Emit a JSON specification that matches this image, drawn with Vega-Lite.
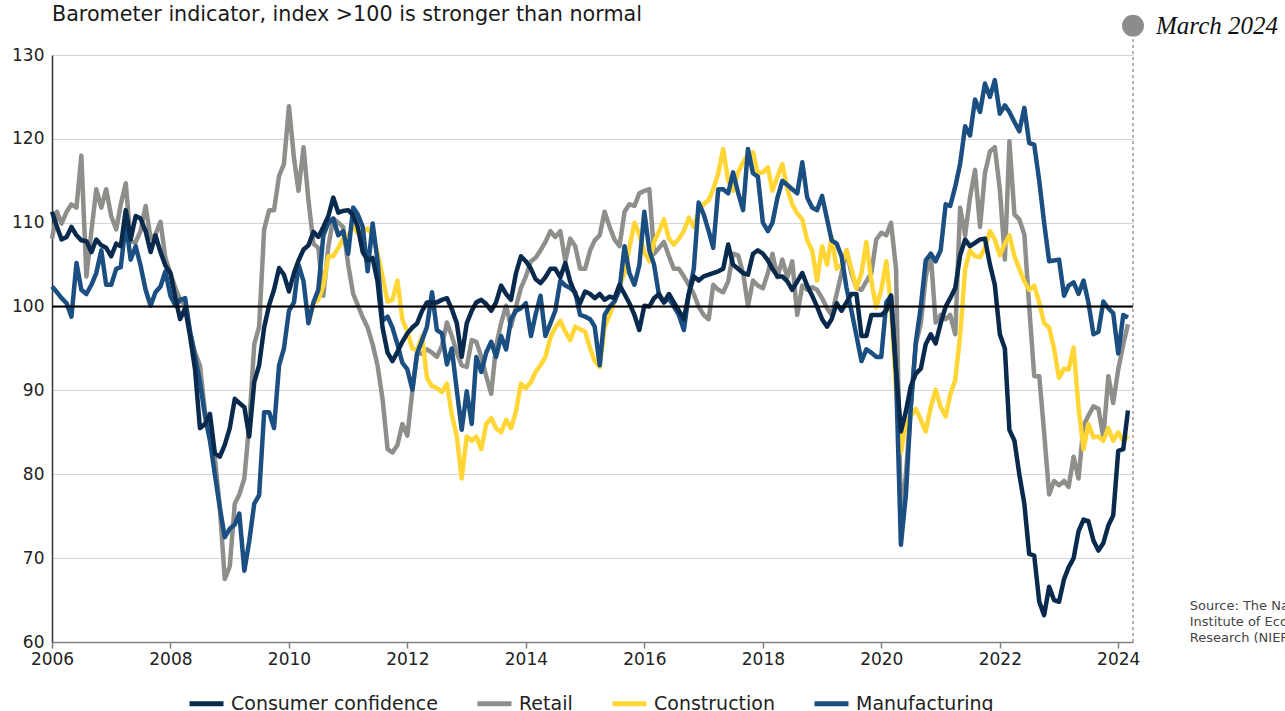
{
"$schema":"https://vega.github.io/schema/vega-lite/v6.json",
"width":1081,"height":587,
"autosize":{"type":"none"},
"padding":{"left":52,"top":55,"right":152,"bottom":69},
"background":"white",
"title":{"text":"Barometer indicator, index >100 is stronger than normal","anchor":"start","frame":"group","offset":-12,"font":"DejaVu Sans","fontSize":20.7,"fontWeight":"normal","color":"#1a1a1a"},
"config":{"view":{"stroke":null},"font":"DejaVu Sans"},
"datasets":{"baro":[
{"d":"2006-01","c":111.3,"r":108.1,"m":102.4},
{"d":"2006-02","c":109.5,"r":111.3,"m":101.7},
{"d":"2006-03","c":108.0,"r":109.9,"m":101.0},
{"d":"2006-04","c":108.3,"r":111.3,"m":100.4},
{"d":"2006-05","c":109.5,"r":112.2,"m":98.8},
{"d":"2006-06","c":108.5,"r":111.8,"m":105.2},
{"d":"2006-07","c":107.9,"r":118.0,"m":102.0},
{"d":"2006-08","c":107.8,"r":103.6,"m":101.5},
{"d":"2006-09","c":106.5,"r":109.0,"m":102.6},
{"d":"2006-10","c":108.0,"r":114.0,"m":104.0},
{"d":"2006-11","c":107.3,"r":111.8,"m":106.7},
{"d":"2006-12","c":107.0,"r":114.0,"m":102.6},
{"d":"2007-01","c":106.0,"r":110.8,"m":102.6},
{"d":"2007-02","c":107.5,"r":109.2,"m":104.5},
{"d":"2007-03","c":107.2,"r":112.2,"m":104.7},
{"d":"2007-04","c":111.5,"r":114.7,"m":110.0},
{"d":"2007-05","c":108.0,"r":107.7,"m":105.6},
{"d":"2007-06","c":110.8,"r":107.7,"m":107.2},
{"d":"2007-07","c":110.5,"r":109.0,"m":104.9},
{"d":"2007-08","c":109.0,"r":112.0,"m":102.0},
{"d":"2007-09","c":106.5,"r":108.1,"m":100.1},
{"d":"2007-10","c":108.5,"r":108.6,"m":101.7},
{"d":"2007-11","c":106.5,"r":110.1,"m":102.4},
{"d":"2007-12","c":104.9,"r":105.8,"m":104.2},
{"d":"2008-01","c":104.0,"r":104.0,"m":101.3},
{"d":"2008-02","c":101.0,"r":102.2,"m":100.1},
{"d":"2008-03","c":98.5,"r":100.8,"m":100.8},
{"d":"2008-04","c":99.8,"r":100.2,"m":101.0},
{"d":"2008-05","c":96.5,"r":97.0,"m":97.0},
{"d":"2008-06","c":92.5,"r":94.5,"m":94.0},
{"d":"2008-07","c":85.5,"r":93.0,"m":91.0},
{"d":"2008-08","c":86.0,"r":87.5,"m":87.0},
{"d":"2008-09","c":87.2,"r":85.5,"m":84.0},
{"d":"2008-10","c":82.5,"r":82.0,"m":80.0},
{"d":"2008-11","c":82.1,"r":76.0,"m":76.0},
{"d":"2008-12","c":83.5,"r":67.5,"m":72.5},
{"d":"2009-01","c":85.5,"r":69.0,"m":73.5},
{"d":"2009-02","c":89.0,"r":76.5,"m":74.0},
{"d":"2009-03","c":88.5,"r":77.6,"m":75.3},
{"d":"2009-04","c":88.0,"r":79.5,"m":68.5},
{"d":"2009-05","c":84.5,"r":86.0,"m":72.0},
{"d":"2009-06","c":91.0,"r":95.5,"m":76.5},
{"d":"2009-07","c":93.0,"r":97.6,"m":77.5},
{"d":"2009-08","c":97.5,"r":109.2,"m":87.4},
{"d":"2009-09","c":100.2,"r":111.5,"m":87.4},
{"d":"2009-10","c":102.0,"r":111.5,"m":85.5},
{"d":"2009-11","c":104.6,"r":115.6,"m":93.0},
{"d":"2009-12","c":103.8,"r":117.0,"m":95.0},
{"d":"2010-01","c":101.8,"r":123.9,"m":99.5},
{"d":"2010-02","c":104.0,"r":117.7,"m":100.5},
{"d":"2010-03","c":105.5,"r":113.8,"m":105.0},
{"d":"2010-04","c":106.8,"r":119.0,"m":103.0},
{"d":"2010-05","c":107.3,"r":112.7,"k":98.0,"m":98.0},
{"d":"2010-06","c":108.9,"r":107.5,"k":100.4,"m":100.5},
{"d":"2010-07","c":108.3,"r":107.0,"k":100.8,"m":102.0},
{"d":"2010-08","c":109.5,"r":101.3,"k":102.5,"m":108.5},
{"d":"2010-09","c":110.8,"r":107.2,"k":106.0,"m":110.0},
{"d":"2010-10","c":113.0,"r":110.5,"k":106.0,"m":110.5},
{"d":"2010-11","c":111.2,"r":110.0,"k":107.0,"m":108.5},
{"d":"2010-12","c":111.4,"r":109.5,"k":108.1,"m":109.0},
{"d":"2011-01","c":111.5,"r":105.0,"k":108.5,"m":106.3},
{"d":"2011-02","c":110.9,"r":101.5,"k":109.5,"m":111.8},
{"d":"2011-03","c":109.5,"r":100.2,"k":108.8,"m":111.0},
{"d":"2011-04","c":106.5,"r":98.7,"k":108.8,"m":109.5},
{"d":"2011-05","c":105.5,"r":97.5,"k":109.3,"m":104.2},
{"d":"2011-06","c":105.8,"r":95.5,"k":108.6,"m":109.9},
{"d":"2011-07","c":103.0,"r":93.0,"k":106.3,"m":105.5},
{"d":"2011-08","c":97.5,"r":89.0,"k":103.6,"m":98.3},
{"d":"2011-09","c":94.5,"r":83.0,"k":100.6,"m":98.8},
{"d":"2011-10","c":93.5,"r":82.6,"k":100.8,"m":97.5},
{"d":"2011-11","c":94.6,"r":83.5,"k":103.1,"m":95.5},
{"d":"2011-12","c":95.8,"r":86.0,"k":98.5,"m":93.3},
{"d":"2012-01","c":96.8,"r":84.6,"k":97.0,"m":92.5},
{"d":"2012-02","c":97.5,"r":90.0,"k":95.0,"m":90.1},
{"d":"2012-03","c":98.0,"r":94.4,"k":94.8,"m":94.4},
{"d":"2012-04","c":99.5,"r":94.4,"k":96.5,"m":96.0},
{"d":"2012-05","c":100.5,"r":94.9,"k":91.5,"m":97.6},
{"d":"2012-06","c":100.5,"r":94.5,"k":90.5,"m":101.7},
{"d":"2012-07","c":100.5,"r":94.0,"k":90.3,"m":97.2},
{"d":"2012-08","c":100.8,"r":95.3,"k":89.8,"m":96.8},
{"d":"2012-09","c":101.0,"r":98.1,"k":90.8,"m":93.1},
{"d":"2012-10","c":99.7,"r":96.5,"k":87.1,"m":95.0},
{"d":"2012-11","c":98.0,"r":94.5,"k":84.5,"m":90.0},
{"d":"2012-12","c":94.0,"r":93.0,"k":79.5,"m":85.3},
{"d":"2013-01","c":98.0,"r":92.8,"k":84.5,"m":89.9},
{"d":"2013-02","c":99.5,"r":96.0,"k":84.0,"m":86.0},
{"d":"2013-03","c":100.5,"r":95.8,"k":84.5,"m":94.0},
{"d":"2013-04","c":100.8,"r":94.0,"k":83.0,"m":92.2},
{"d":"2013-05","c":100.3,"r":91.7,"k":86.0,"m":94.5},
{"d":"2013-06","c":99.5,"r":89.6,"k":86.7,"m":95.8},
{"d":"2013-07","c":100.5,"r":95.3,"k":85.5,"m":94.0},
{"d":"2013-08","c":102.5,"r":98.0,"k":85.0,"m":96.5},
{"d":"2013-09","c":101.5,"r":100.1,"k":86.5,"m":94.9},
{"d":"2013-10","c":100.8,"r":97.6,"k":85.5,"m":98.5},
{"d":"2013-11","c":104.0,"r":100.0,"k":87.5,"m":99.5},
{"d":"2013-12","c":106.0,"r":102.2,"k":90.8,"m":99.8},
{"d":"2014-01","c":105.4,"r":103.6,"k":90.3,"m":100.4},
{"d":"2014-02","c":104.5,"r":105.4,"k":91.0,"m":96.5},
{"d":"2014-03","c":103.3,"r":105.8,"k":92.2,"m":99.0},
{"d":"2014-04","c":102.8,"r":106.7,"k":93.0,"m":101.3},
{"d":"2014-05","c":103.5,"r":107.7,"k":94.0,"m":96.5},
{"d":"2014-06","c":104.5,"r":109.0,"k":96.3,"m":98.0},
{"d":"2014-07","c":104.5,"r":108.3,"k":97.5,"m":99.5},
{"d":"2014-08","c":103.5,"r":109.0,"k":98.3,"m":103.1},
{"d":"2014-09","c":105.2,"r":105.4,"k":97.0,"m":102.5},
{"d":"2014-10","c":103.0,"r":108.1,"k":96.0,"m":102.2},
{"d":"2014-11","c":101.5,"r":107.2,"k":97.6,"m":101.7},
{"d":"2014-12","c":100.4,"r":104.5,"k":97.3,"m":99.0},
{"d":"2015-01","c":101.8,"r":104.5,"k":97.0,"m":98.8},
{"d":"2015-02","c":101.5,"r":106.7,"k":95.0,"m":98.5},
{"d":"2015-03","c":101.0,"r":107.9,"k":93.5,"m":97.6},
{"d":"2015-04","c":101.5,"r":108.5,"k":92.8,"m":93.0},
{"d":"2015-05","c":100.8,"r":111.3,"k":97.5,"m":99.0},
{"d":"2015-06","c":101.2,"r":109.5,"k":99.0,"m":100.0},
{"d":"2015-07","c":101.0,"r":108.0,"k":100.5,"m":100.6},
{"d":"2015-08","c":102.6,"r":107.2,"k":102.5,"m":102.0},
{"d":"2015-09","c":101.5,"r":111.3,"k":104.0,"m":107.2},
{"d":"2015-10","c":100.4,"r":112.2,"k":107.0,"m":104.0},
{"d":"2015-11","c":99.0,"r":112.0,"k":110.0,"m":102.6},
{"d":"2015-12","c":97.2,"r":113.5,"k":108.6,"m":104.9},
{"d":"2016-01","c":100.1,"r":113.8,"k":106.5,"m":111.3},
{"d":"2016-02","c":100.0,"r":114.0,"k":105.4,"m":106.7},
{"d":"2016-03","c":101.0,"r":106.3,"k":107.7,"m":105.0},
{"d":"2016-04","c":101.5,"r":107.0,"k":109.0,"m":101.3},
{"d":"2016-05","c":100.5,"r":107.7,"k":110.4,"m":100.5},
{"d":"2016-06","c":101.5,"r":106.0,"k":108.1,"m":101.0},
{"d":"2016-07","c":100.5,"r":104.5,"k":107.4,"m":100.0},
{"d":"2016-08","c":99.5,"r":104.5,"k":108.1,"m":99.0},
{"d":"2016-09","c":98.5,"r":103.6,"k":109.0,"m":97.2},
{"d":"2016-10","c":101.5,"r":102.6,"k":110.6,"m":101.5},
{"d":"2016-11","c":103.6,"r":101.5,"k":109.5,"m":104.5},
{"d":"2016-12","c":103.1,"r":100.0,"k":111.3,"m":112.4},
{"d":"2017-01","c":103.6,"r":99.0,"k":112.2,"m":111.0},
{"d":"2017-02","c":103.8,"r":98.5,"k":112.7,"m":109.0},
{"d":"2017-03","c":104.0,"r":102.6,"k":114.0,"m":107.0},
{"d":"2017-04","c":104.2,"r":102.0,"k":115.9,"m":114.0},
{"d":"2017-05","c":104.5,"r":101.7,"k":118.8,"m":114.0},
{"d":"2017-06","c":107.4,"r":103.0,"k":115.0,"m":113.5},
{"d":"2017-07","c":105.0,"r":106.3,"k":113.8,"m":116.0},
{"d":"2017-08","c":104.5,"r":106.1,"k":116.0,"m":113.6},
{"d":"2017-09","c":104.0,"r":104.0,"k":117.2,"m":111.5},
{"d":"2017-10","c":103.8,"r":100.1,"k":118.1,"m":118.8},
{"d":"2017-11","c":106.3,"r":103.1,"k":118.4,"m":115.9},
{"d":"2017-12","c":106.7,"r":102.5,"k":115.9,"m":115.5},
{"d":"2018-01","c":106.3,"r":102.2,"k":116.0,"m":110.0},
{"d":"2018-02","c":105.5,"r":104.0,"k":116.6,"m":109.0},
{"d":"2018-03","c":104.5,"r":106.3,"k":113.8,"m":110.0},
{"d":"2018-04","c":103.6,"r":103.5,"k":115.5,"m":113.0},
{"d":"2018-05","c":103.6,"r":105.6,"k":117.0,"m":115.0},
{"d":"2018-06","c":103.0,"r":103.5,"k":114.0,"m":114.5},
{"d":"2018-07","c":102.0,"r":105.4,"k":112.2,"m":114.0},
{"d":"2018-08","c":103.0,"r":99.0,"k":111.1,"m":113.5},
{"d":"2018-09","c":104.0,"r":102.5,"k":110.4,"m":117.2},
{"d":"2018-10","c":102.5,"r":102.0,"k":107.9,"m":113.0},
{"d":"2018-11","c":101.3,"r":102.3,"k":106.7,"m":111.8},
{"d":"2018-12","c":100.0,"r":102.0,"k":103.1,"m":111.5},
{"d":"2019-01","c":98.5,"r":101.0,"k":107.2,"m":113.2},
{"d":"2019-02","c":97.6,"r":99.8,"k":105.0,"m":110.4},
{"d":"2019-03","c":98.5,"r":99.0,"k":108.3,"m":107.9},
{"d":"2019-04","c":100.4,"r":101.5,"k":104.5,"m":107.5},
{"d":"2019-05","c":99.5,"r":104.0,"k":105.0,"m":106.0},
{"d":"2019-06","c":100.5,"r":106.7,"k":106.7,"m":102.2},
{"d":"2019-07","c":101.5,"r":104.0,"k":104.5,"m":99.5},
{"d":"2019-08","c":101.5,"r":102.2,"k":102.2,"m":96.5},
{"d":"2019-09","c":96.5,"r":102.0,"k":104.0,"m":93.5},
{"d":"2019-10","c":96.5,"r":103.0,"k":107.7,"m":94.9},
{"d":"2019-11","c":99.0,"r":104.0,"k":103.0,"m":94.5},
{"d":"2019-12","c":99.0,"r":108.0,"k":99.9,"m":94.0},
{"d":"2020-01","c":99.0,"r":108.8,"k":102.0,"m":94.0},
{"d":"2020-02","c":99.5,"r":108.5,"k":105.4,"m":100.5},
{"d":"2020-03","c":101.3,"r":110.0,"k":100.0,"m":101.3},
{"d":"2020-04","c":92.6,"r":104.5,"k":90.0,"m":92.0},
{"d":"2020-05","c":85.1,"r":74.8,"k":82.6,"m":71.6},
{"d":"2020-06","c":87.5,"r":80.0,"k":86.0,"m":77.6},
{"d":"2020-07","c":90.5,"r":88.0,"k":87.0,"m":88.0},
{"d":"2020-08","c":92.0,"r":95.5,"k":87.8,"m":95.8},
{"d":"2020-09","c":92.6,"r":98.0,"k":86.5,"m":100.0},
{"d":"2020-10","c":95.5,"r":103.5,"k":85.1,"m":105.5},
{"d":"2020-11","c":96.7,"r":106.3,"k":88.0,"m":106.3},
{"d":"2020-12","c":95.6,"r":98.1,"k":90.1,"m":105.4},
{"d":"2021-01","c":98.0,"r":99.0,"k":88.0,"m":106.7},
{"d":"2021-02","c":100.0,"r":98.5,"k":86.9,"m":112.2},
{"d":"2021-03","c":101.0,"r":99.0,"k":89.5,"m":112.0},
{"d":"2021-04","c":102.2,"r":96.7,"k":91.2,"m":114.3},
{"d":"2021-05","c":106.1,"r":111.8,"k":96.5,"m":117.0},
{"d":"2021-06","c":108.0,"r":108.5,"k":104.5,"m":121.5},
{"d":"2021-07","c":107.2,"r":113.0,"k":106.7,"m":120.4},
{"d":"2021-08","c":107.6,"r":116.3,"k":106.0,"m":124.7},
{"d":"2021-09","c":108.0,"r":109.5,"k":105.9,"m":123.2},
{"d":"2021-10","c":108.1,"r":115.9,"k":107.0,"m":126.6},
{"d":"2021-11","c":105.0,"r":118.5,"k":109.0,"m":125.0},
{"d":"2021-12","c":102.6,"r":119.0,"k":108.0,"m":127.0},
{"d":"2022-01","c":96.7,"r":114.0,"k":106.1,"m":123.0},
{"d":"2022-02","c":95.0,"r":105.6,"k":107.5,"m":124.0},
{"d":"2022-03","c":85.3,"r":119.7,"k":108.5,"m":123.2},
{"d":"2022-04","c":84.0,"r":111.0,"k":106.0,"m":122.0},
{"d":"2022-05","c":80.0,"r":110.4,"k":104.5,"m":120.9},
{"d":"2022-06","c":76.5,"r":108.6,"k":103.0,"m":123.7},
{"d":"2022-07","c":70.5,"r":100.0,"k":102.0,"m":119.5},
{"d":"2022-08","c":70.3,"r":91.7,"k":102.5,"m":119.3},
{"d":"2022-09","c":64.8,"r":91.7,"k":100.5,"m":115.0},
{"d":"2022-10","c":63.2,"r":85.0,"k":98.0,"m":110.0},
{"d":"2022-11","c":66.6,"r":77.6,"k":97.5,"m":105.4},
{"d":"2022-12","c":65.0,"r":79.2,"k":95.0,"m":105.5},
{"d":"2023-01","c":64.8,"r":78.7,"k":91.5,"m":105.6},
{"d":"2023-02","c":67.5,"r":79.2,"k":92.6,"m":101.3},
{"d":"2023-03","c":68.9,"r":78.5,"k":92.5,"m":102.5},
{"d":"2023-04","c":70.0,"r":82.1,"k":95.1,"m":102.9},
{"d":"2023-05","c":73.2,"r":79.5,"k":88.0,"m":101.5},
{"d":"2023-06","c":74.6,"r":85.8,"k":83.0,"m":103.1},
{"d":"2023-07","c":74.4,"r":87.0,"k":86.0,"m":100.5},
{"d":"2023-08","c":72.1,"r":88.1,"k":84.4,"m":96.7},
{"d":"2023-09","c":70.9,"r":87.8,"k":84.5,"m":97.0},
{"d":"2023-10","c":71.8,"r":84.4,"k":84.0,"m":100.6},
{"d":"2023-11","c":73.9,"r":91.7,"k":85.5,"m":99.8},
{"d":"2023-12","c":75.1,"r":88.5,"k":84.0,"m":99.2},
{"d":"2024-01","c":82.8,"r":92.5,"k":85.0,"m":94.4},
{"d":"2024-02","c":83.0,"r":95.5,"k":84.0,"m":99.0},
{"d":"2024-03","c":87.6,"r":97.9,"k":84.6,"m":98.7}
],
"notes":[
{"d":"2024-04-01","y":133.5,"lo":60,"hi":132,"t":"March 2024"}
],
"source":[
{"d":"2025-03-17","y":64.95,"t":"Source: The National\nInstitute of Economic\nResearch (NIER)"}
]},
"layer":[
{"data":{"name":"baro"},
 "transform":[{"fold":["c","r","k","m"],"as":["s","v"]},{"filter":"isValid(datum.v)"}],
 "encoding":{
  "x":{"field":"d","type":"temporal","title":null,
   "scale":{"type":"utc","domain":[{"year":2006,"month":1,"date":1,"utc":true},{"year":2024,"month":4,"date":1,"utc":true}]},
   "axis":{"values":[{"year":2006,"month":1,"date":1,"utc":true},{"year":2008,"month":1,"date":1,"utc":true},{"year":2010,"month":1,"date":1,"utc":true},{"year":2012,"month":1,"date":1,"utc":true},{"year":2014,"month":1,"date":1,"utc":true},{"year":2016,"month":1,"date":1,"utc":true},{"year":2018,"month":1,"date":1,"utc":true},{"year":2020,"month":1,"date":1,"utc":true},{"year":2022,"month":1,"date":1,"utc":true},{"year":2024,"month":1,"date":1,"utc":true}],
    "format":"%Y","formatType":"utc","grid":false,"domainColor":"#7f7f7f","domainWidth":1.5,"tickColor":"#7f7f7f","tickWidth":1.5,"tickSize":6,"labelFont":"DejaVu Sans","labelFontSize":17,"labelColor":"#222222","labelPadding":3,"labelFlush":false}},
  "y":{"field":"v","type":"quantitative","title":null,
   "scale":{"domain":[60,130],"nice":false,"zero":false},
   "axis":{"values":[60,70,80,90,100,110,120,130],"grid":true,"gridColor":"#d4d4d4","gridWidth":1,"domainColor":"#333333","domainWidth":1.5,"ticks":false,"labelFont":"DejaVu Sans","labelFontSize":17,"labelColor":"#222222","labelPadding":8,"labelFlush":false}},
  "color":{"field":"s","type":"nominal",
   "scale":{"domain":["c","r","k","m"],"range":["#0a2a4d","#8e8e8a","#ffd635","#1b4f82"]},
   "legend":{"orient":"none","legendX":135,"legendY":629,"direction":"horizontal","title":null,"symbolType":"stroke","symbolStrokeWidth":5,"symbolSize":1156,"labelFont":"DejaVu Sans","labelFontSize":19,"labelColor":"#222222","labelOffset":5,"columnPadding":29,"labelLimit":400,
    "labelExpr":"datum.label=='c'?'Consumer confidence':datum.label=='r'?'Retail':datum.label=='k'?'Construction':'Manufacturing'"}}
 },
 "layer":[
  {"transform":[{"filter":"datum.s=='r'"}],"mark":{"type":"line","strokeWidth":4.5,"strokeJoin":"round"}},
  {"transform":[{"filter":"datum.s=='k'"}],"mark":{"type":"line","strokeWidth":4.5,"strokeJoin":"round"}},
  {"transform":[{"filter":"datum.s=='m'"}],"mark":{"type":"line","strokeWidth":4.5,"strokeJoin":"round"}},
  {"transform":[{"filter":"datum.s=='c'"}],"mark":{"type":"line","strokeWidth":4.5,"strokeJoin":"round"}}
 ]},
{"mark":{"type":"rule","color":"#000000","strokeWidth":2},
 "encoding":{"y":{"datum":100,"type":"quantitative","title":null}}},
{"data":{"name":"notes"},
 "layer":[
  {"mark":{"type":"rule","color":"#9a9a9a","strokeWidth":1.5,"strokeDash":[3,3]},
   "encoding":{"x":{"field":"d","type":"temporal","title":null},"y":{"field":"lo","type":"quantitative","title":null},"y2":{"field":"hi"}}},
  {"mark":{"type":"point","filled":true,"color":"#8c8c8c","opacity":1,"size":480},
   "encoding":{"x":{"field":"d","type":"temporal","title":null},"y":{"field":"y","type":"quantitative","title":null}}},
  {"mark":{"type":"text","align":"left","baseline":"middle","dx":23,"font":"Liberation Serif","fontStyle":"italic","fontSize":25,"color":"#111111"},
   "encoding":{"x":{"field":"d","type":"temporal","title":null},"y":{"field":"y","type":"quantitative","title":null},"text":{"field":"t"}}}
 ]},
{"data":{"name":"source"},
 "mark":{"type":"text","lineBreak":"\n","lineHeight":16,"align":"left","baseline":"top","font":"DejaVu Sans","fontSize":13,"color":"#444444"},
 "encoding":{"x":{"field":"d","type":"temporal","title":null},"y":{"field":"y","type":"quantitative","title":null},"text":{"field":"t"}}}
]
}
